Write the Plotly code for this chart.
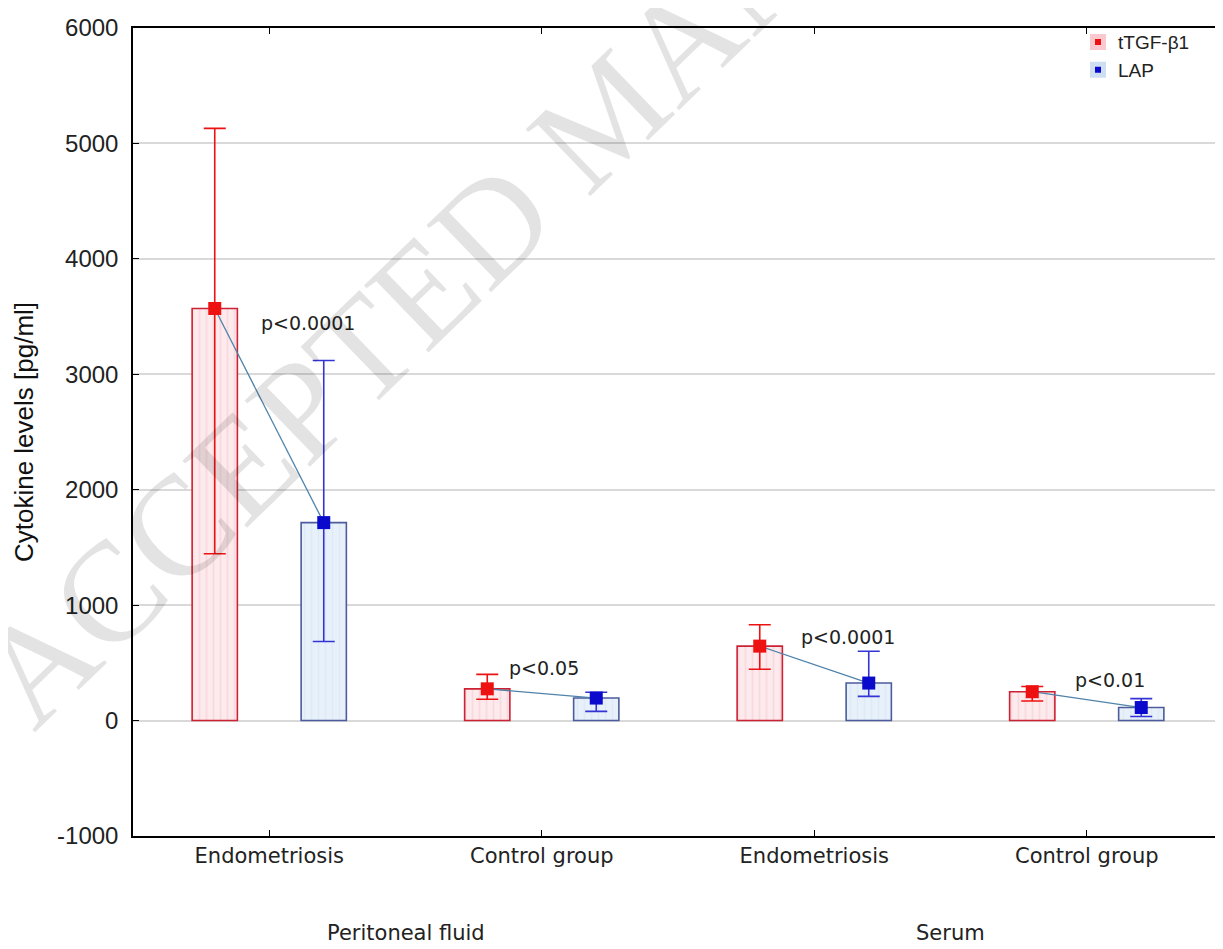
import plotly.graph_objects as go

# ---- data ----
groups = ["Endometriosis", "Control group", "Endometriosis", "Control group"]
sample_types = ["Peritoneal fluid", "Serum"]
series_names = ["tTGF-β1", "LAP"]

tgf_mean = [3570, 275, 645, 250]
tgf_upper = [5130, 400, 830, 295]
tgf_lower = [1445, 185, 445, 170]

lap_mean = [1715, 195, 325, 113]
lap_upper = [3120, 245, 600, 190]
lap_lower = [685, 80, 210, 35]

p_labels = ["p<0.0001", "p<0.05", "p<0.0001", "p<0.01"]
y_ticks = [-1000, 0, 1000, 2000, 3000, 4000, 5000, 6000]

# ---- styling ----
SHIFT = 0.2
BAR_W = 0.166
gx = list(range(len(groups)))
x_tgf = [g - SHIFT for g in gx]
x_lap = [g + SHIFT for g in gx]

RED = "#ee1111"
RED_EDGE = "#cc2233"
PINK = "#fdeaec"
BLUE = "#0a0acc"
BLUE_EDGE = "#4c5c9c"
LIGHTBLUE = "#e8f1fa"
LINK = "#4f83aa"

fig = go.Figure()

fig.add_trace(go.Bar(
    x=x_tgf, y=tgf_mean, width=BAR_W, name=series_names[0], showlegend=False,
    marker=dict(color=PINK, line=dict(color=RED_EDGE, width=1.6),
                pattern=dict(shape="|", fgcolor="#f6c8cf", bgcolor=PINK,
                             size=7, solidity=0.25)),
))
fig.add_trace(go.Bar(
    x=x_lap, y=lap_mean, width=BAR_W, name=series_names[1], showlegend=False,
    marker=dict(color=LIGHTBLUE, line=dict(color=BLUE_EDGE, width=1.6),
                pattern=dict(shape="|", fgcolor="#d3e3f3", bgcolor=LIGHTBLUE,
                             size=7, solidity=0.25)),
))

# connecting lines between tTGF and LAP means within each group
lx, ly = [], []
for i in gx:
    lx += [x_tgf[i], x_lap[i], None]
    ly += [tgf_mean[i], lap_mean[i], None]
fig.add_trace(go.Scatter(x=lx, y=ly, mode="lines", line=dict(color=LINK, width=1.3),
                         showlegend=False, hoverinfo="skip"))

fig.add_trace(go.Scatter(
    x=x_tgf, y=tgf_mean, mode="markers", showlegend=False,
    marker=dict(symbol="square", size=13, color=RED),
    error_y=dict(type="data", symmetric=False,
                 array=[u - m for u, m in zip(tgf_upper, tgf_mean)],
                 arrayminus=[m - l for m, l in zip(tgf_mean, tgf_lower)],
                 color=RED, thickness=1.6, width=11),
))
fig.add_trace(go.Scatter(
    x=x_lap, y=lap_mean, mode="markers", showlegend=False,
    marker=dict(symbol="square", size=13, color=BLUE),
    error_y=dict(type="data", symmetric=False,
                 array=[u - m for u, m in zip(lap_upper, lap_mean)],
                 arrayminus=[m - l for m, l in zip(lap_mean, lap_lower)],
                 color="#3434d4", thickness=1.6, width=11),
))

# legend entries (marker inside a light box, as in the reference)
fig.add_trace(go.Scatter(x=[None], y=[None], mode="markers", name=series_names[0],
                         marker=dict(symbol="square", size=11, color=RED,
                                     line=dict(color="#f9c9cf", width=5))))
fig.add_trace(go.Scatter(x=[None], y=[None], mode="markers", name=series_names[1],
                         marker=dict(symbol="square", size=11, color=BLUE,
                                     line=dict(color="#cfdff2", width=5))))

# p-value labels
p_pos = [(0.141, 3446), (1.01, 459), (2.122, 727), (3.084, 355)]
for lab, (px, py) in zip(p_labels, p_pos):
    fig.add_annotation(x=px, y=py, xref="x", yref="y", text=lab, showarrow=False,
                       font=dict(family="DejaVu Sans", size=19, color="#222222"))

# second-level category labels
for k, st in enumerate(sample_types):
    fig.add_annotation(x=2 * k + 0.5, y=-0.12, xref="x", yref="paper", text=st,
                       showarrow=False, yanchor="middle",
                       font=dict(family="DejaVu Sans", size=21, color="#222222"))

# watermark
fig.add_annotation(x=0.434, y=0.894, xref="paper", yref="paper",
                   xanchor="center", yanchor="middle",
                   text="ACCEPTED MANUSCRIPT", showarrow=False, textangle=-44,
                   font=dict(family="Liberation Serif", size=142, color="rgba(0,0,0,0.11)"))

fig.update_layout(
    width=1223, height=949,
    margin=dict(l=125, r=8, t=20, b=121),
    paper_bgcolor="white", plot_bgcolor="white",
    barmode="overlay",
    legend=dict(x=0.867, y=1.006, xanchor="left", yanchor="top",
                bgcolor="rgba(0,0,0,0)", font=dict(family="Liberation Sans", size=19, color="#222"),
                itemwidth=30, tracegroupgap=0),
)
fig.update_xaxes(
    range=[-0.5, 3.5], tickvals=gx, ticktext=groups, automargin=False,
    ticks="inside", ticklen=6, tickcolor="black",
    showline=True, linecolor="black", linewidth=1.5, mirror="ticks",
    showgrid=False, zeroline=False,
    tickfont=dict(family="DejaVu Sans", size=21, color="#222222"),
)
fig.update_yaxes(
    range=[-1000, 6000], tickvals=y_ticks, ticktext=[str(v) for v in y_ticks],
    automargin=False,
    ticks="inside", ticklen=6, tickcolor="black",
    showline=True, linecolor="black", linewidth=1.5,
    showgrid=True, gridcolor="#d9d9d9", gridwidth=1.5, zeroline=False,
    tickfont=dict(family="Liberation Sans", size=24, color="#222222"),
    ticklabelstandoff=8,
    title=dict(text="Cytokine levels [pg/ml]", standoff=16,
               font=dict(family="Liberation Sans Narrow, Liberation Sans", size=26, color="#111")),
)

fig.write_html("out.html")
